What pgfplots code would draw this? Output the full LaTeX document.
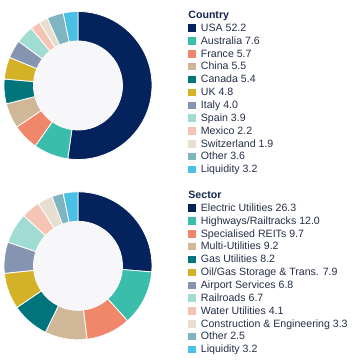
\documentclass[border=0pt]{standalone}
\usepackage{pgfplots}
\usepackage{pgfplotstable}
\pgfplotsset{compat=1.18}
\usepackage{fontspec}
\setmainfont{Liberation Sans}

\definecolor{c1}{RGB}{4,34,92}
\definecolor{c2}{RGB}{58,189,170}
\definecolor{c3}{RGB}{240,134,106}
\definecolor{c4}{RGB}{207,183,151}
\definecolor{c5}{RGB}{0,118,124}
\definecolor{c6}{RGB}{212,178,40}
\definecolor{c7}{RGB}{133,148,176}
\definecolor{c8}{RGB}{160,220,210}
\definecolor{c9}{RGB}{246,196,180}
\definecolor{c10}{RGB}{232,222,208}
\definecolor{c11}{RGB}{128,180,190}
\definecolor{c12}{RGB}{74,193,228}
\definecolor{innergray}{RGB}{247,247,249}
\definecolor{textcol}{RGB}{38,46,74}
\definecolor{titlecol}{RGB}{20,36,78}

\pgfplotstableread{
name v
USA 52.2
Australia 7.6
France 5.7
China 5.5
Canada 5.4
UK 4.8
Italy 4.0
Spain 3.9
Mexico 2.2
Switzerland 1.9
Other 3.6
Liquidity 3.2
}\countrytab

\pgfplotstableread{
name v
Electric 26.3
Highways 12.0
REITs 9.7
Multi 9.2
Gas 8.2
Oil 7.9
Airport 6.8
Railroads 6.7
Water 4.1
Construction 3.3
Other 2.5
Liquidity 3.2
}\sectortab

% draw a donut from a table: #1 table, #2 cx, #3 cy (axis units = bp)
\newcommand\donut[3]{%
  \pgfplotstablegetrowsof{#1}%
  \pgfmathtruncatemacro\lastrow{\pgfplotsretval-1}%
  \gdef\tot{0}%
  \foreach \i in {0,...,\lastrow}{%
    \pgfplotstablegetelem{\i}{v}\of#1%
    \pgfmathsetmacro\tmpsum{\tot+\pgfplotsretval}\xdef\tot{\tmpsum}}%
  \gdef\cum{0}%
  \foreach \i in {0,...,\lastrow}{%
    \pgfplotstablegetelem{\i}{v}\of#1%
    \pgfmathsetmacro\anga{90-360*(\cum/\tot)}%
    \pgfmathsetmacro\newcum{\cum+\pgfplotsretval}%
    \pgfmathsetmacro\angb{90-360*(\newcum/\tot)}%
    \xdef\cum{\newcum}%
    \pgfmathtruncatemacro\k{\i+1}%
    \fill[c\k, draw=white, line width=0.8bp]
      ([shift={(\anga:74bp)}]axis cs:#2,#3)
      arc[start angle=\anga, end angle=\angb, radius=74bp]
      -- ([shift={(\angb:44.5bp)}]axis cs:#2,#3)
      arc[start angle=\angb, end angle=\anga, radius=44.5bp] -- cycle;
  }%
  \fill[innergray] (axis cs:#2,#3) circle[radius=44.3bp];
}

\newcommand\sq[1]{\addlegendimage{legend image code/.code={\fill[#1] (0bp,-3.2bp) rectangle (6.5bp,3.2bp);}}}

\pgfplotsset{
  halfaxis/.style={
    scale only axis, width=361bp, height=180bp,
    xmin=0, xmax=361, ymin=0, ymax=180,
    hide axis, clip=false,
    legend cell align=left,
    legend style={at={(0.5208,0.9444)}, anchor=north west,
      draw=none, fill=none, inner sep=0pt, outer sep=0pt,
      row sep=2.85bp, column sep=6bp,
      nodes={inner sep=0pt, text height=8.5bp, text depth=1.5bp},
      font=\fontsize{10.6bp}{12bp}\selectfont, text=textcol},
  },
}

\begin{document}
\begin{tikzpicture}
\path[use as bounding box] (0,0) rectangle (361bp,360bp);
\begin{axis}[halfaxis, at={(0,180bp)}, anchor=south west]
\pgfplotsextra{\donut{\countrytab}{78}{94.5}}
\addlegendimage{empty legend}
\addlegendentry{\hspace*{-12.5bp}\textcolor{titlecol}{\bfseries Country}}
\sq{c1}\addlegendentry{USA 52.2}
\sq{c2}\addlegendentry{Australia 7.6}
\sq{c3}\addlegendentry{France 5.7}
\sq{c4}\addlegendentry{China 5.5}
\sq{c5}\addlegendentry{Canada 5.4}
\sq{c6}\addlegendentry{UK 4.8}
\sq{c7}\addlegendentry{Italy 4.0}
\sq{c8}\addlegendentry{Spain 3.9}
\sq{c9}\addlegendentry{Mexico 2.2}
\sq{c10}\addlegendentry{Switzerland 1.9}
\sq{c11}\addlegendentry{Other 3.6}
\sq{c12}\addlegendentry{Liquidity 3.2}
\end{axis}
\begin{axis}[halfaxis, at={(0,0)}, anchor=south west]
\pgfplotsextra{\donut{\sectortab}{78}{94.2}}
\addlegendimage{empty legend}
\addlegendentry{\hspace*{-12.5bp}\textcolor{titlecol}{\bfseries Sector}}
\sq{c1}\addlegendentry{Electric Utilities 26.3}
\sq{c2}\addlegendentry{Highways/Railtracks 12.0}
\sq{c3}\addlegendentry{Specialised REITs 9.7}
\sq{c4}\addlegendentry{Multi-Utilities 9.2}
\sq{c5}\addlegendentry{Gas Utilities 8.2}
\sq{c6}\addlegendentry{Oil/Gas Storage \& Trans. 7.9}
\sq{c7}\addlegendentry{Airport Services 6.8}
\sq{c8}\addlegendentry{Railroads 6.7}
\sq{c9}\addlegendentry{Water Utilities 4.1}
\sq{c10}\addlegendentry{Construction \& Engineering 3.3}
\sq{c11}\addlegendentry{Other 2.5}
\sq{c12}\addlegendentry{Liquidity 3.2}
\end{axis}
\end{tikzpicture}
\end{document}
